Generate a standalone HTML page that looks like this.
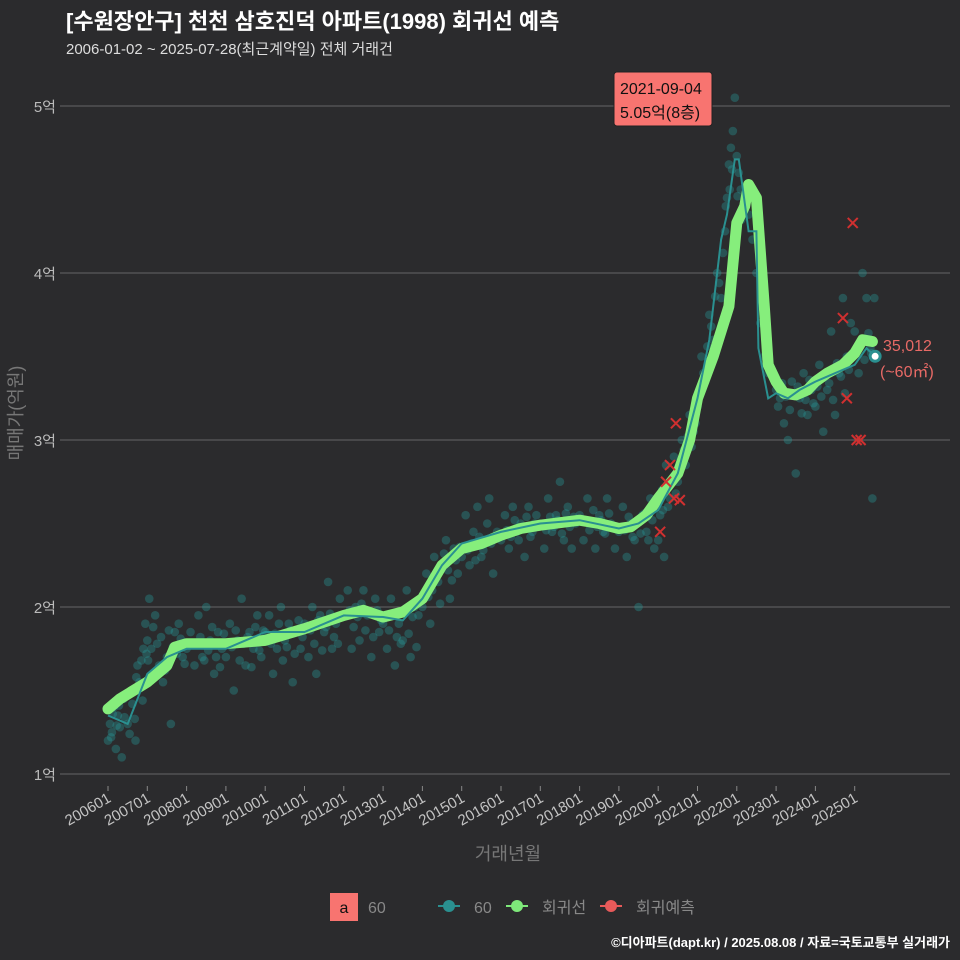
<!DOCTYPE html>
<html><head><meta charset="utf-8"><style>
html,body{margin:0;padding:0;background:#2b2b2d;}
svg{display:block;font-family:"Liberation Sans","Noto Sans CJK KR",sans-serif;}
</style></head><body>
<svg id="chart" width="960" height="960" viewBox="0 0 960 960" xmlns="http://www.w3.org/2000/svg">
<rect width="960" height="960" fill="#2b2b2d"/>
<text x="66" y="29" fill="#ffffff" font-size="22" font-weight="bold">[수원장안구] 천천 삼호진덕 아파트(1998) 회귀선 예측</text>
<text x="66" y="54" fill="#dddddd" font-size="15">2006-01-02 ~ 2025-07-28(최근계약일) 전체 거래건</text>
<g id="grid"></g>
<g id="yticks"></g>
<g id="xticks"></g>
<text transform="translate(22,413) rotate(-90)" text-anchor="middle" fill="#777" font-size="18">매매가(억원)</text>
<text x="508" y="860" text-anchor="middle" fill="#777" font-size="18">거래년월</text>
<g id="dots"></g>
<g id="lines"></g>
<g id="crosses"></g>
<g>
<rect x="614" y="72" width="98" height="54" rx="3" fill="#f87470" stroke="#222" stroke-width="1"/>
<text x="620" y="94" fill="#111" font-size="16">2021-09-04</text>
<text x="620" y="118" fill="#111" font-size="16">5.05억(8층)</text>
</g>
<text x="883" y="351" fill="#e86a66" font-size="16">35,012</text>
<text x="880" y="377" fill="#e86a66" font-size="16">(~60㎡)</text>
<g>
<rect x="330" y="893" width="28" height="28" fill="#f87470"/>
<text x="344" y="913" text-anchor="middle" fill="#111" font-size="16">a</text>
<text x="368" y="913" fill="#888" font-size="16">60</text>
<g><line x1="438" y1="906" x2="460" y2="906" stroke="#2a9090" stroke-width="2"/><circle cx="449" cy="906" r="6" fill="#2a9090"/><text x="474" y="913" fill="#888" font-size="16">60</text></g>
<g><line x1="506" y1="906" x2="528" y2="906" stroke="#7ee87a" stroke-width="2"/><circle cx="517" cy="906" r="6" fill="#7ee87a"/><text x="542" y="913" fill="#888" font-size="16">회귀선</text></g>
<g><line x1="600" y1="906" x2="622" y2="906" stroke="#e85a5a" stroke-width="2"/><circle cx="611" cy="906" r="6" fill="#e85a5a"/><text x="636" y="913" fill="#888" font-size="16">회귀예측</text></g>
</g>
<text x="950" y="947" text-anchor="end" fill="#ffffff" font-size="13" font-weight="bold">©디아파트(dapt.kr) / 2025.08.08 / 자료=국토교통부 실거래가</text>
</svg>
<script>
const yTicks=[10000,20000,30000,40000,50000];
const yTickLabels=["1억","2억","3억","4억","5억"];
const xTicks=[2006,2007,2008,2009,2010,2011,2012,2013,2014,2015,2016,2017,2018,2019,2020,2021,2022,2023,2024,2025];
const xTickLabels=["200601","200701","200801","200901","201001","201101","201201","201301","201401","201501","201601","201701","201801","201901","202001","202101","202201","202301","202401","202501"];
const regT=[2006.0,2006.3,2007.0,2007.5,2007.7,2008.0,2009.0,2010.0,2011.0,2012.0,2012.5,2013.0,2013.5,2014.0,2014.5,2015.0,2015.5,2016.0,2016.5,2017.0,2018.0,2018.5,2019.0,2019.3,2019.7,2020.0,2020.5,2020.8,2021.0,2021.4,2021.8,2022.0,2022.2,2022.3,2022.5,2022.7,2022.8,2023.0,2023.2,2023.5,2023.8,2024.0,2024.3,2024.7,2025.0,2025.2,2025.45];
const regV=[13900,14500,15500,16500,17600,17800,17800,18000,18700,19500,19800,19400,19700,20500,22500,23500,23800,24300,24700,24900,25200,25000,24700,24800,25500,26500,28000,30000,32500,35000,38000,43000,44000,45300,44500,38000,34500,33500,32800,32700,33000,33500,34000,34500,35200,36000,35900];
const trendT=[2006.0,2006.5,2007.0,2007.5,2008.0,2009.0,2010.0,2011.0,2012.0,2013.0,2013.5,2014.0,2014.5,2015.0,2016.0,2017.0,2018.0,2019.0,2019.5,2020.0,2020.5,2021.0,2021.3,2021.6,2021.75,2021.95,2022.05,2022.3,2022.5,2022.55,2022.8,2023.0,2023.3,2023.6,2024.0,2024.5,2025.0,2025.3,2025.52];
const trendV=[13500,13000,16000,17000,17500,17500,18500,18500,19500,19400,19200,20500,22500,23800,24500,25000,25200,24700,25000,25800,28000,32500,36000,42000,43500,46800,46800,42500,42500,35500,32500,32800,32500,33000,33500,34000,34500,35500,35000];
const scatter=[[2006.0,12000],[2006.05,13000],[2006.1,12500],[2006.15,14000],[2006.2,11500],[2006.25,13500],[2006.3,12800],[2006.35,11000],[2006.4,14500],[2006.5,13000],[2006.6,15000],[2006.7,12000],[2006.75,16500],[2006.8,15500],[2006.9,17500],[2006.95,19000],
[2007.0,18000],[2007.05,20500],[2007.1,17500],[2007.2,19500],[2007.3,16500],[2007.4,15500],[2007.5,17000],[2007.6,13000],[2007.7,18500],[2007.8,19000],[2007.9,17000],
[2008.0,17500],[2008.1,18500],[2008.2,16500],[2008.3,19500],[2008.4,17000],[2008.5,20000],[2008.6,18000],[2008.7,16000],[2008.8,18500],[2008.9,17500],
[2009.0,17000],[2009.1,19000],[2009.2,15000],[2009.3,18000],[2009.4,20500],[2009.5,16500],[2009.6,18500],[2009.7,17500],[2009.8,19500],[2009.9,17000],
[2010.0,18500],[2010.1,19500],[2010.2,16000],[2010.3,17500],[2010.4,20000],[2010.5,18000],[2010.6,19000],[2010.7,15500],[2010.8,18500],[2010.9,17500],
[2011.0,19000],[2011.1,17000],[2011.2,20000],[2011.3,16000],[2011.4,19500],[2011.5,18500],[2011.6,21500],[2011.7,17500],[2011.8,19000],[2011.9,20500],
[2012.0,19500],[2012.1,21000],[2012.2,17500],[2012.3,20000],[2012.4,18000],[2012.5,21000],[2012.6,19500],[2012.7,17000],[2012.8,20500],[2012.9,18500],
[2013.0,19000],[2013.1,17500],[2013.2,20500],[2013.3,16500],[2013.4,19000],[2013.5,18000],[2013.6,21000],[2013.7,17000],[2013.8,20000],[2013.9,19500],
[2014.0,20000],[2014.1,22000],[2014.2,19000],[2014.3,23000],[2014.4,21500],[2014.5,22500],[2014.6,24000],[2014.7,20500],[2014.8,23500],[2014.9,22000],
[2015.0,23000],[2015.1,25500],[2015.2,22500],[2015.3,24500],[2015.4,26000],[2015.5,23000],[2015.6,24000],[2015.7,26500],[2015.8,22000],[2015.9,24500],
[2016.0,24000],[2016.1,25500],[2016.2,23500],[2016.3,26000],[2016.4,24500],[2016.5,25000],[2016.6,23000],[2016.7,26000],[2016.8,24500],[2016.9,25500],
[2017.0,25000],[2017.1,23500],[2017.2,26500],[2017.3,24500],[2017.4,25500],[2017.5,27500],[2017.6,24000],[2017.7,26000],[2017.8,23500],[2017.9,25000],
[2018.0,25500],[2018.1,24000],[2018.2,26500],[2018.3,25000],[2018.4,23500],[2018.5,25500],[2018.6,24500],[2018.7,26500],[2018.8,25000],[2018.9,23500],
[2019.0,24500],[2019.1,26000],[2019.2,23000],[2019.3,25000],[2019.4,24000],[2019.5,20000],[2019.6,25500],[2019.7,24500],[2019.8,26500],[2019.9,23500],
[2020.0,24000],[2020.05,25500],[2020.1,27000],[2020.15,23000],[2020.2,28500],[2020.3,26500],[2020.4,29000],[2020.5,27500],[2020.6,30000],[2020.7,28500],[2020.8,31500],[2020.9,30500],
[2021.0,32000],[2021.1,35000],[2021.2,33500],[2021.3,37500],[2021.4,36000],[2021.5,40000],[2021.6,38500],[2021.7,42500],[2021.75,44500],[2021.8,46500],[2021.85,47500],[2021.9,48500],[2021.95,50500],
[2022.0,47000],[2022.05,46000],[2022.1,45000],[2022.2,44000],[2022.3,43500],[2022.4,42000],[2022.5,40000],[2022.6,37000],[2022.7,35000],[2022.8,34000],
[2023.0,33000],[2023.1,32500],[2023.2,31000],[2023.3,30000],[2023.4,33500],[2023.5,28000],[2023.6,32500],[2023.7,34000],[2023.8,31500],[2023.9,33000],
[2024.0,32000],[2024.1,34500],[2024.2,30500],[2024.3,33000],[2024.4,36500],[2024.5,31500],[2024.6,34000],[2024.7,38500],[2024.8,35000],[2024.9,37000],
[2025.0,36500],[2025.1,34000],[2025.2,40000],[2025.3,38500],[2025.4,35500],[2025.45,26500],[2025.5,38500],
[2006.08,12200],[2006.12,13600],[2006.22,12900],[2006.28,14100],[2006.42,13400],[2006.55,12400],[2006.62,14200],[2006.68,13300],[2006.72,15800],[2006.85,16800],[2006.88,14400],[2006.98,17200],
[2007.02,16800],[2007.15,18800],[2007.25,17800],[2007.35,18200],[2007.45,16200],[2007.55,18600],[2007.65,17600],[2007.75,17200],[2007.85,18100],[2007.95,16600],
[2008.15,17800],[2008.35,18200],[2008.45,16800],[2008.55,17400],[2008.65,18800],[2008.75,17000],[2008.85,16400],[2008.95,18400],
[2009.15,17600],[2009.25,18600],[2009.35,16800],[2009.45,17800],[2009.55,18200],[2009.65,16400],[2009.75,18800],[2009.85,17400],[2009.95,18600],
[2010.15,17800],[2010.25,18400],[2010.35,19000],[2010.45,16800],[2010.55,17600],[2010.65,18600],[2010.75,17200],[2010.85,19200],[2010.95,18200],
[2011.15,18600],[2011.25,17800],[2011.35,19200],[2011.45,17400],[2011.55,18800],[2011.65,19600],[2011.75,18200],[2011.85,17800],[2011.95,19400],
[2012.15,19800],[2012.25,18800],[2012.35,19400],[2012.45,20200],[2012.55,18600],[2012.65,19600],[2012.75,18200],[2012.85,19800],[2012.95,19200],
[2013.15,18600],[2013.25,19600],[2013.35,18200],[2013.45,17800],[2013.55,19800],[2013.65,18400],[2013.75,19400],[2013.85,17600],[2013.95,20400],
[2014.15,20600],[2014.25,21000],[2014.35,21800],[2014.45,20200],[2014.55,23200],[2014.65,22200],[2014.75,21600],[2014.85,22800],[2014.95,23600],
[2015.15,23400],[2015.25,23800],[2015.35,22800],[2015.45,24200],[2015.55,23400],[2015.65,25000],[2015.75,23800],[2015.85,24200],
[2016.15,24600],[2016.25,24200],[2016.35,25200],[2016.45,24000],[2016.55,24800],[2016.65,25400],[2016.75,24200],[2016.85,25000],
[2017.15,24600],[2017.25,25400],[2017.35,24800],[2017.45,25200],[2017.55,24400],[2017.65,25600],[2017.75,24800],[2017.85,25400],
[2018.15,25200],[2018.25,24600],[2018.35,25800],[2018.45,24800],[2018.55,25200],[2018.65,24400],[2018.75,25600],[2018.85,24800],
[2019.15,24600],[2019.25,25400],[2019.35,24200],[2019.45,25000],[2019.55,24400],[2019.65,25600],[2019.75,24000],[2019.85,25200],
[2020.12,25800],[2020.25,26000],[2020.35,27600],[2020.45,26800],[2020.55,28600],[2020.65,29400],[2020.75,30200],[2020.85,29600],[2020.95,31000],
[2021.05,33000],[2021.15,34000],[2021.25,35600],[2021.35,36800],[2021.45,38600],[2021.55,39400],[2021.65,41200],[2021.72,44000],[2021.82,45000],[2021.88,46200],
[2022.02,44600],[2022.12,43200],[2022.25,45200],
[2023.05,32000],[2023.15,33400],[2023.25,32600],[2023.35,31800],[2023.45,32800],[2023.55,33200],[2023.65,31600],[2023.75,32400],[2023.85,33600],[2023.95,32200],
[2024.05,33200],[2024.15,32600],[2024.25,34000],[2024.35,33400],[2024.45,32400],[2024.55,34600],[2024.65,33800],[2024.75,32800],[2024.85,34200],[2024.95,35200],
[2025.05,35400],[2025.15,35800],[2025.25,34800],[2025.35,36400],[2025.42,35200]];
const predT=[2020.05,2020.2,2020.3,2020.4,2020.45,2020.55,2024.7,2024.8,2024.95,2025.05,2025.15];
const predV=[24500,27500,28500,26500,31000,26400,37300,32500,43000,30000,30000];
const lastT=2025.52, lastV=35012;

const NS="http://www.w3.org/2000/svg";
function X(t){return 108+(t-2006)*39.3;}
function Y(v){return 774-(v-10000)/10000*167;}
function mk(tag,parent,attrs){const e=document.createElementNS(NS,tag);for(const k in attrs)e.setAttribute(k,attrs[k]);document.getElementById(parent).appendChild(e);return e;}

yTicks.forEach((v,i)=>{
  const g=mk('line','grid',{x1:60,x2:950,y1:Y(v),y2:Y(v),stroke:'#666','stroke-width':1});
  
  
  const t=mk('text','yticks',{x:56,y:Y(v)+6,'text-anchor':'end',fill:'#bbb','font-size':15});
  t.textContent=yTickLabels[i];
  
  
});
xTicks.forEach((t,i)=>{
  const x=X(t);
  const tk=mk('line','xticks',{x1:x,x2:x,y1:786,y2:791,stroke:'#888'});
  
  
  const l=mk('text','xticks',{transform:`translate(${x+4},${801}) rotate(-30)`,'text-anchor':'end',fill:'#c4c4c4','font-size':15});
  l.textContent=xTickLabels[i];
  
  
});
scatter.forEach(p=>{
  const c=mk('circle','dots',{cx:X(p[0]),cy:Y(p[1]),r:4.3,fill:'rgba(40,150,150,0.38)'});
  
  
});
function path(T,V){return T.map((t,i)=>(i?'L':'M')+X(t).toFixed(1)+','+Y(V[i]).toFixed(1)).join(' ');}
const reg=mk('path','lines',{d:path(regT,regV),fill:'none',stroke:'#86ee7c','stroke-width':11,'stroke-linecap':'round','stroke-linejoin':'round'});


const tr=mk('path','lines',{d:path(trendT,trendV),fill:'none',stroke:'#2a9090','stroke-width':2});


predT.forEach((t,i)=>{
  const x=X(t),y=Y(predV[i]);
  const p=mk('path','crosses',{d:`M${x-5},${y-5}L${x+5},${y+5}M${x-5},${y+5}L${x+5},${y-5}`,stroke:'#d03030','stroke-width':2});
  
  
});
const lp=mk('circle','lines',{cx:X(lastT),cy:Y(lastV),r:5,fill:'#fff',stroke:'#2a9090','stroke-width':3});


</script>
</body></html>
